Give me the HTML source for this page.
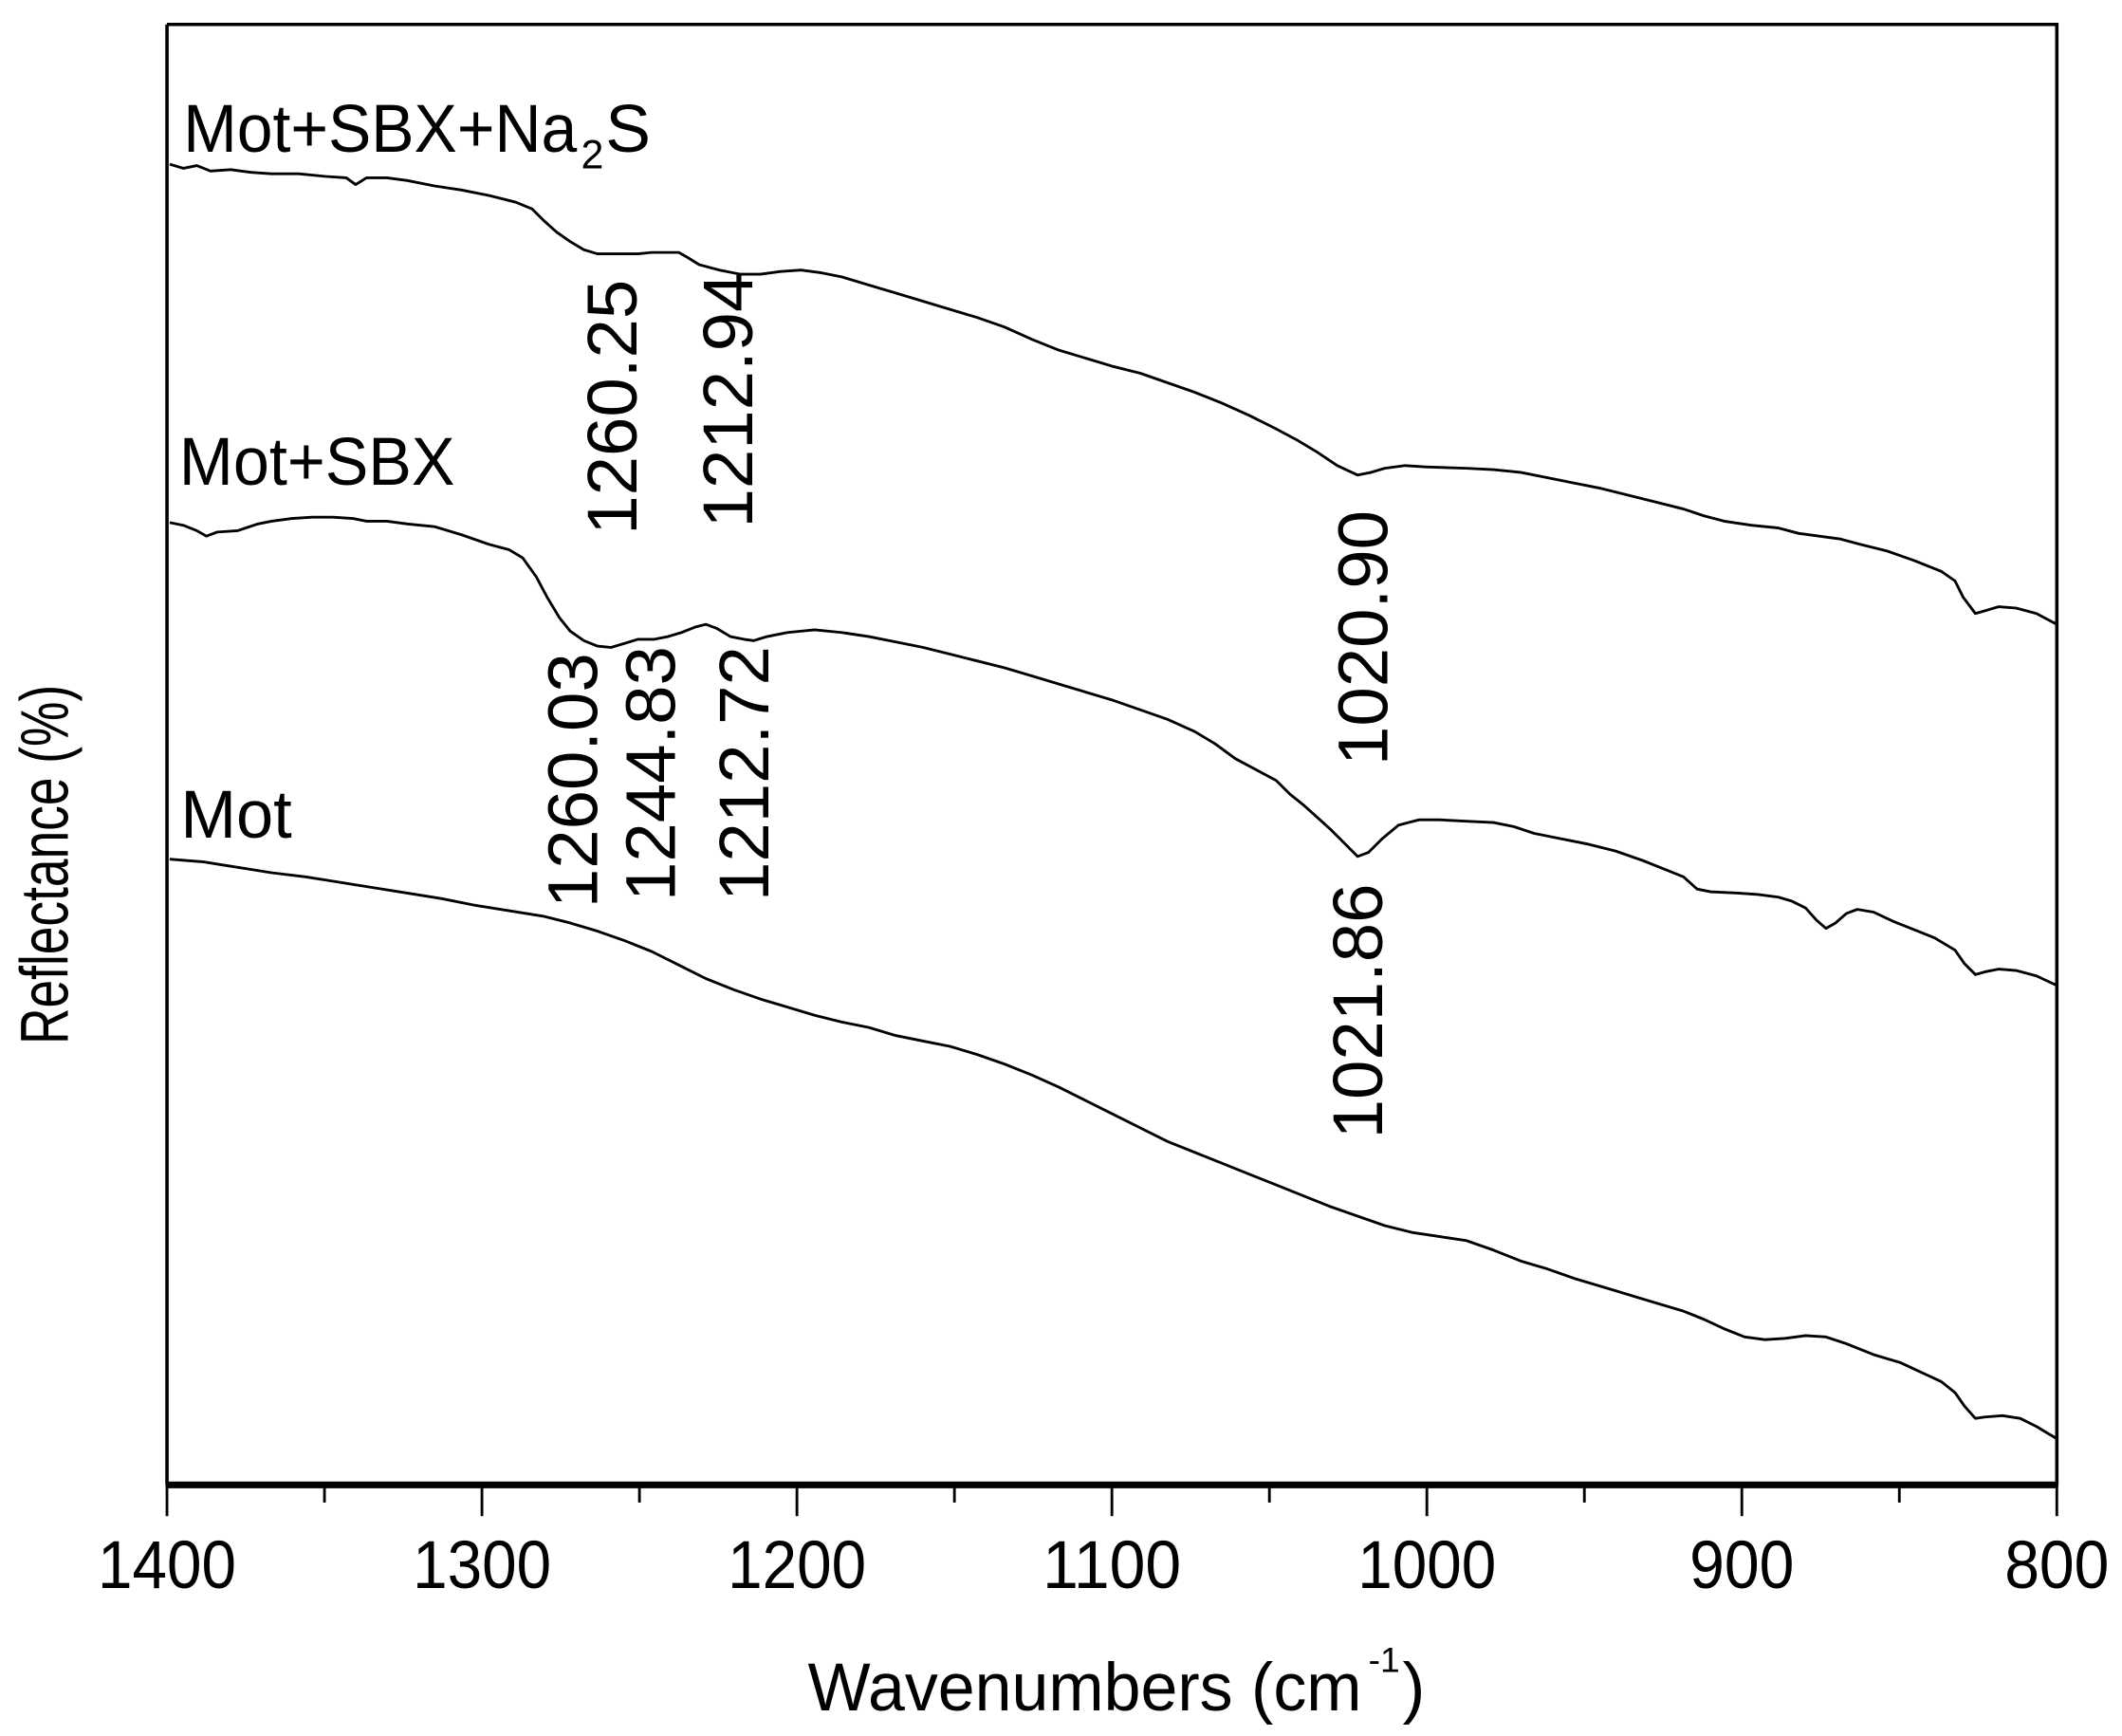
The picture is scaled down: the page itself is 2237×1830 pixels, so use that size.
<!DOCTYPE html>
<html><head><meta charset="utf-8"><style>
html,body{margin:0;padding:0;background:#fff;}
svg{display:block;}
text{font-family:"Liberation Sans",Arial,sans-serif;fill:#000;}
</style></head><body>
<svg width="2237" height="1830" viewBox="0 0 1563 1279" preserveAspectRatio="none" xmlns="http://www.w3.org/2000/svg">
<rect x="0" y="0" width="1563" height="1279" fill="#fff"/>
<path d="M123,18 H1515 V1094" fill="none" stroke="#000" stroke-width="2.5"/>
<path d="M123,18 V1094" fill="none" stroke="#000" stroke-width="2.5"/>
<line x1="122" y1="1094" x2="1516" y2="1094" stroke="#000" stroke-width="5"/>
<g stroke="#000" stroke-width="2">
<line x1="123" y1="1094" x2="123" y2="1117"/><line x1="355" y1="1094" x2="355" y2="1117"/>
<line x1="587" y1="1094" x2="587" y2="1117"/><line x1="819" y1="1094" x2="819" y2="1117"/>
<line x1="1051" y1="1094" x2="1051" y2="1117"/><line x1="1283" y1="1094" x2="1283" y2="1117"/>
<line x1="1515" y1="1094" x2="1515" y2="1117"/>
<line x1="239" y1="1094" x2="239" y2="1107"/><line x1="471" y1="1094" x2="471" y2="1107"/>
<line x1="703" y1="1094" x2="703" y2="1107"/><line x1="935" y1="1094" x2="935" y2="1107"/>
<line x1="1167" y1="1094" x2="1167" y2="1107"/><line x1="1399" y1="1094" x2="1399" y2="1107"/>
</g>
<g font-size="50" text-anchor="middle">
<text x="123" y="1170" textLength="102" lengthAdjust="spacingAndGlyphs">1400</text>
<text x="355" y="1170" textLength="102" lengthAdjust="spacingAndGlyphs">1300</text>
<text x="587" y="1170" textLength="102" lengthAdjust="spacingAndGlyphs">1200</text>
<text x="819" y="1170" textLength="102" lengthAdjust="spacingAndGlyphs">1100</text>
<text x="1051" y="1170" textLength="102" lengthAdjust="spacingAndGlyphs">1000</text>
<text x="1283" y="1170" textLength="77" lengthAdjust="spacingAndGlyphs">900</text>
<text x="1515" y="1170" textLength="77" lengthAdjust="spacingAndGlyphs">800</text>
</g>
<text x="595" y="1260" font-size="50" textLength="408" lengthAdjust="spacingAndGlyphs">Wavenumbers (cm</text>
<text x="1008" y="1232" font-size="26">-1</text>
<text x="1033" y="1260" font-size="50">)</text>
<text transform="translate(50,637) rotate(-90)" font-size="50" text-anchor="middle" textLength="265" lengthAdjust="spacingAndGlyphs">Reflectance (%)</text>
<text x="135" y="112" font-size="50" textLength="290" lengthAdjust="spacingAndGlyphs">Mot+SBX+Na</text>
<text x="428" y="124" font-size="30">2</text>
<text x="446" y="112" font-size="50">S</text>
<text x="132" y="357" font-size="50" textLength="203" lengthAdjust="spacingAndGlyphs">Mot+SBX</text>
<text x="133" y="617" font-size="50" textLength="82" lengthAdjust="spacingAndGlyphs">Mot</text>
<g font-size="52" text-anchor="middle">
<text transform="translate(469,300) rotate(-90)">1260.25</text>
<text transform="translate(554,295) rotate(-90)">1212.94</text>
<text transform="translate(440,575) rotate(-90)">1260.03</text>
<text transform="translate(497,570) rotate(-90)">1244.83</text>
<text transform="translate(566,570) rotate(-90)">1212.72</text>
<text transform="translate(1022,470) rotate(-90)">1020.90</text>
<text transform="translate(1018,745) rotate(-90)">1021.86</text>
</g>
<g fill="none" stroke="#000" stroke-width="2" stroke-linejoin="round">
<polyline points="125,121 135,124 145,122 155,126 170,125 185,127 200,128 220,128 240,130 255,131 262,136 270,131 285,131 300,133 320,137 340,140 360,144 380,149 392,154 400,162 410,171 420,178 430,184 440,187 455,187 470,187 480,186 490,186 500,186 507,190 515,195 530,199 545,202 560,202 575,200 590,199 605,201 620,204 640,210 660,216 680,222 700,228 720,234 740,241 760,250 780,258 800,264 820,270 840,275 860,282 880,289 900,297 920,306 940,316 955,324 970,333 985,343 1000,350 1010,348 1020,345 1035,343 1050,344 1080,345 1100,346 1120,348 1140,352 1160,356 1180,360 1200,365 1220,370 1240,375 1255,380 1270,384 1290,387 1310,389 1325,393 1340,395 1355,397 1370,401 1390,406 1410,413 1430,421 1440,428 1446,440 1455,452 1462,450 1472,447 1485,448 1500,452 1515,460"/>
<polyline points="125,385 135,387 145,391 152,395 160,392 175,391 190,386 200,384 215,382 230,381 245,381 260,382 270,384 285,384 300,386 320,388 340,394 360,401 375,405 385,411 395,425 403,440 412,455 420,465 430,472 440,476 450,477 460,474 470,471 482,471 492,469 502,466 512,462 520,460 528,463 538,469 548,471 555,472 565,469 580,466 600,464 620,466 640,469 660,473 680,477 700,482 720,487 740,492 760,498 780,504 800,510 820,516 840,523 860,530 880,539 895,548 910,559 925,567 940,575 950,585 960,593 970,602 980,611 990,621 1000,631 1008,628 1018,618 1030,608 1045,604 1060,604 1080,605 1100,606 1115,609 1130,614 1150,618 1170,622 1190,627 1210,634 1225,640 1240,646 1250,655 1260,657 1280,658 1295,659 1310,661 1320,664 1330,669 1338,678 1345,684 1352,680 1360,673 1368,670 1380,672 1395,679 1410,685 1425,691 1440,700 1447,710 1455,718 1462,716 1472,714 1485,715 1500,719 1515,726"/>
<polyline points="125,633 150,635 175,639 200,643 225,646 250,650 275,654 300,658 325,662 350,667 375,671 400,675 420,680 440,686 460,693 480,701 500,711 520,721 540,729 560,736 580,742 600,748 620,753 640,757 660,763 680,767 700,771 720,777 740,784 760,792 780,801 800,811 820,821 840,831 860,841 880,849 900,857 920,865 940,873 960,881 980,889 1000,896 1020,903 1040,908 1060,911 1080,914 1100,921 1120,929 1140,935 1160,942 1180,948 1200,954 1220,960 1240,966 1255,972 1270,979 1285,985 1300,987 1315,986 1330,984 1345,985 1360,990 1380,998 1400,1004 1415,1011 1430,1018 1440,1026 1447,1036 1455,1045 1462,1044 1475,1043 1488,1045 1500,1051 1515,1060"/>
</g>
</svg>
</body></html>
